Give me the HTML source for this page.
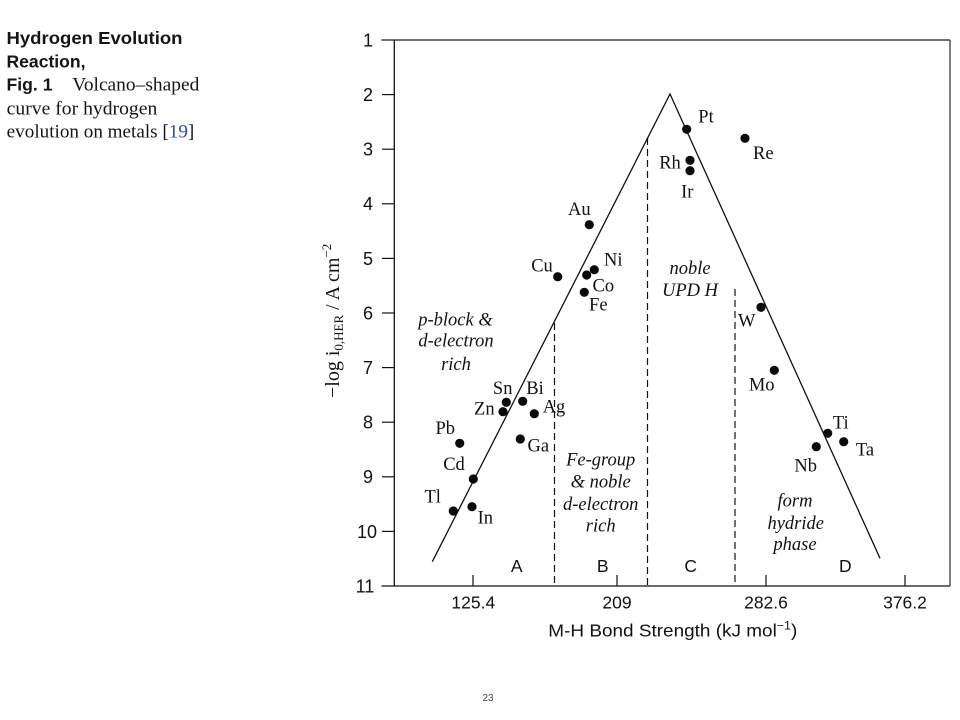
<!DOCTYPE html>
<html>
<head>
<meta charset="utf-8">
<style>
  html,body{margin:0;padding:0;background:#fff;}
  svg{display:block;}
  .serif{font-family:"Liberation Serif",serif;}
  .sans{font-family:"Liberation Sans",sans-serif;}
</style>
</head>
<body>
<svg width="960" height="720" viewBox="0 0 960 720" xmlns="http://www.w3.org/2000/svg">
  <rect x="0" y="0" width="960" height="720" fill="#ffffff"/>

  <!-- Left caption -->
  <g fill="#151515">
    <text class="sans" x="6.5" y="44" font-size="17.5" font-weight="bold" textLength="176" lengthAdjust="spacingAndGlyphs">Hydrogen Evolution</text>
    <text class="sans" x="6.5" y="67.3" font-size="17.5" font-weight="bold" textLength="79" lengthAdjust="spacingAndGlyphs">Reaction,</text>
    <text class="sans" x="6.5" y="90.7" font-size="17.5" font-weight="bold" textLength="46" lengthAdjust="spacingAndGlyphs">Fig. 1</text>
    <text class="serif" x="72.3" y="90.7" font-size="19" textLength="127" lengthAdjust="spacingAndGlyphs">Volcano–shaped</text>
    <text class="serif" x="6.7" y="114.3" font-size="19" textLength="150.6" lengthAdjust="spacingAndGlyphs">curve for hydrogen</text>
    <text class="serif" x="6.7" y="137.3" font-size="19" textLength="187.6" lengthAdjust="spacingAndGlyphs">evolution on metals [<tspan fill="#2b4c9e">19</tspan>]</text>
  </g>

  <!-- Frame -->
  <line x1="381.5" y1="40" x2="950" y2="40" stroke="#6e6e6e" stroke-width="2"/>
  <line x1="950" y1="40" x2="950" y2="586" stroke="#555" stroke-width="1.5"/>
  <line x1="394.3" y1="40" x2="394.3" y2="586" stroke="#111" stroke-width="1.3"/>
  <line x1="381.5" y1="586" x2="950" y2="586" stroke="#111" stroke-width="1.3"/>

  <!-- Y ticks -->
  <g stroke="#111" stroke-width="1.2">
    <line x1="382" y1="94.6" x2="394" y2="94.6"/>
    <line x1="382" y1="149.2" x2="394" y2="149.2"/>
    <line x1="382" y1="203.8" x2="394" y2="203.8"/>
    <line x1="382" y1="258.4" x2="394" y2="258.4"/>
    <line x1="382" y1="313" x2="394" y2="313"/>
    <line x1="382" y1="367.6" x2="394" y2="367.6"/>
    <line x1="382" y1="422.2" x2="394" y2="422.2"/>
    <line x1="382" y1="476.8" x2="394" y2="476.8"/>
    <line x1="382" y1="531.4" x2="394" y2="531.4"/>
  </g>
  <g class="sans" font-size="18" fill="#111" text-anchor="middle">
    <text x="368" y="46.5">1</text>
    <text x="368" y="101">2</text>
    <text x="368" y="155.6">3</text>
    <text x="368" y="210.2">4</text>
    <text x="368" y="264.8">5</text>
    <text x="368" y="319.4">6</text>
    <text x="368" y="374">7</text>
    <text x="368" y="428.6">8</text>
    <text x="368" y="483.2">9</text>
    <text x="367" y="537.8">10</text>
    <text x="365" y="592.4">11</text>
  </g>

  <!-- X ticks -->
  <g stroke="#111" stroke-width="1.2">
    <line x1="473" y1="575" x2="473" y2="586"/>
    <line x1="617" y1="575" x2="617" y2="586"/>
    <line x1="766" y1="575" x2="766" y2="586"/>
    <line x1="905" y1="575" x2="905" y2="586"/>
  </g>
  <g class="sans" font-size="17.5" fill="#111" text-anchor="middle">
    <text x="473.3" y="608.3">125.4</text>
    <text x="617" y="608.3">209</text>
    <text x="766" y="608.3">282.6</text>
    <text x="905" y="608.3">376.2</text>
  </g>
  <text class="sans" x="548.3" y="636.7" font-size="17.5" fill="#111" textLength="249" lengthAdjust="spacingAndGlyphs">M-H Bond Strength (kJ mol<tspan font-size="11.5" dy="-7">−1</tspan><tspan dy="7">)</tspan></text>

  <!-- Y axis title -->
  <text class="serif" transform="translate(339,398) rotate(-90)" font-size="20" fill="#111">−log i<tspan font-size="13" dy="4">0,HER</tspan><tspan dy="-4"> / A cm</tspan><tspan font-size="13" dy="-8">−2</tspan></text>

  <!-- Volcano line -->
  <polyline points="432.3,561.7 670,94 880,558.3" fill="none" stroke="#111" stroke-width="1.3"/>

  <!-- Dashed region lines -->
  <g stroke="#111" stroke-width="1.2" stroke-dasharray="7,4">
    <line x1="554.5" y1="323" x2="554.5" y2="586"/>
    <line x1="647.5" y1="138" x2="647.5" y2="586"/>
    <line x1="735" y1="289" x2="735" y2="586"/>
  </g>

  <!-- Data points -->
  <g fill="#0a0a0a">
    <circle cx="686.7" cy="129.3" r="4.6"/>
    <circle cx="745" cy="138.3" r="4.6"/>
    <circle cx="690" cy="160.3" r="4.6"/>
    <circle cx="690" cy="170.7" r="4.6"/>
    <circle cx="589.3" cy="224.7" r="4.6"/>
    <circle cx="557.7" cy="276.7" r="4.6"/>
    <circle cx="586.7" cy="275" r="4.6"/>
    <circle cx="594.3" cy="269.7" r="4.6"/>
    <circle cx="584.3" cy="292.3" r="4.6"/>
    <circle cx="761" cy="307.3" r="4.6"/>
    <circle cx="774.3" cy="370.3" r="4.6"/>
    <circle cx="827.7" cy="433.3" r="4.6"/>
    <circle cx="843.7" cy="441.7" r="4.6"/>
    <circle cx="816.3" cy="446.7" r="4.6"/>
    <circle cx="506.3" cy="402.3" r="4.6"/>
    <circle cx="503" cy="411.7" r="4.6"/>
    <circle cx="522.7" cy="401.3" r="4.6"/>
    <circle cx="534.3" cy="413.7" r="4.6"/>
    <circle cx="520.3" cy="439" r="4.6"/>
    <circle cx="459.7" cy="443.3" r="4.6"/>
    <circle cx="473.3" cy="479" r="4.6"/>
    <circle cx="472" cy="506.7" r="4.6"/>
    <circle cx="453.3" cy="511" r="4.6"/>
  </g>

  <!-- Element labels -->
  <g class="serif" font-size="18.5" fill="#111" text-anchor="middle">
    <text x="706" y="122.3">Pt</text>
    <text x="763.3" y="159">Re</text>
    <text x="670" y="168.3">Rh</text>
    <text x="687.3" y="197.7">Ir</text>
    <text x="579.3" y="215">Au</text>
    <text x="542" y="271.7">Cu</text>
    <text x="613.3" y="265.3">Ni</text>
    <text x="603.3" y="291.7">Co</text>
    <text x="598.3" y="310.7">Fe</text>
    <text x="746.7" y="326.7">W</text>
    <text x="761.7" y="390.7">Mo</text>
    <text x="840.7" y="428.3">Ti</text>
    <text x="865" y="455.7">Ta</text>
    <text x="805.7" y="471.7">Nb</text>
    <text x="502.7" y="394">Sn</text>
    <text x="535" y="394">Bi</text>
    <text x="484.3" y="414.3">Zn</text>
    <text x="554" y="412.7">Ag</text>
    <text x="445.3" y="434">Pb</text>
    <text x="538.3" y="451.7">Ga</text>
    <text x="454" y="470">Cd</text>
    <text x="432.7" y="502.3">Tl</text>
    <text x="485.3" y="523.7">In</text>
  </g>

  <!-- Region descriptions -->
  <g class="serif" font-size="18.5" font-style="italic" fill="#111" text-anchor="middle">
    <text x="455.5" y="325.3">p-block &amp;</text>
    <text x="456" y="346.7">d-electron</text>
    <text x="456" y="370">rich</text>
    <text x="600.7" y="465.7">Fe-group</text>
    <text x="600.7" y="487.7">&amp; noble</text>
    <text x="600.7" y="510">d-electron</text>
    <text x="600.7" y="531.7">rich</text>
    <text x="690" y="274">noble</text>
    <text x="690" y="296">UPD H</text>
    <text x="795" y="506.5">form</text>
    <text x="795.7" y="529">hydride</text>
    <text x="795" y="550">phase</text>
  </g>

  <!-- Region letters -->
  <g class="sans" font-size="17.5" fill="#111" text-anchor="middle">
    <text x="516.7" y="572">A</text>
    <text x="602.7" y="572">B</text>
    <text x="690.7" y="572">C</text>
    <text x="845.3" y="572">D</text>
  </g>

  <!-- Page number -->
  <text class="sans" x="488" y="701" font-size="10" fill="#444" text-anchor="middle">23</text>
</svg>
</body>
</html>
